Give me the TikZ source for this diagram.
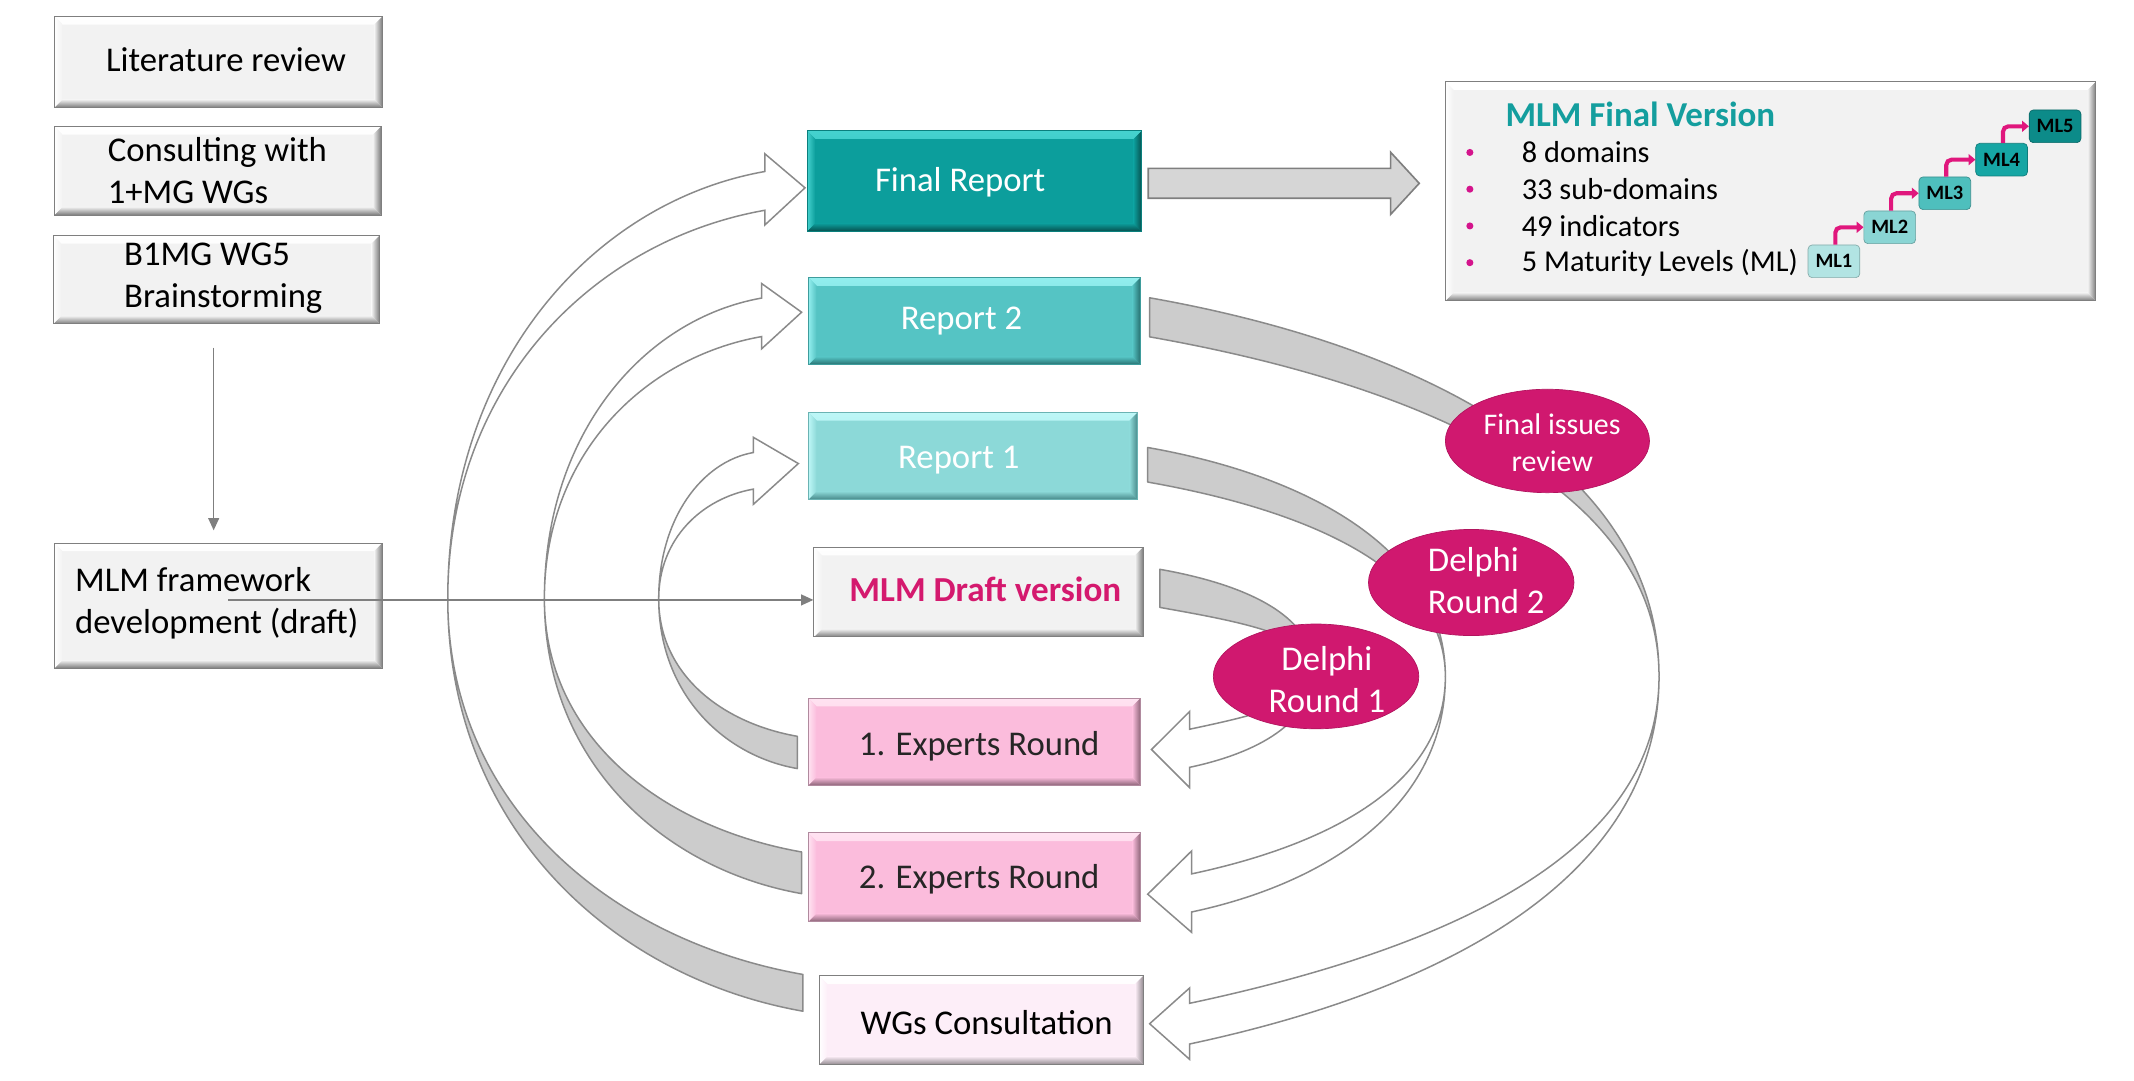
\documentclass[tikz,border=0pt]{standalone}
\usepackage{fontspec}
\setmainfont{Carlito}
\usetikzlibrary{shapes.geometric,arrows.meta,calc}
\definecolor{tealD}{HTML}{0C9E9C}
\definecolor{tealDl}{HTML}{45D2CF}
\definecolor{tealDd}{HTML}{064F4D}
\definecolor{tealDb}{HTML}{0A7F7D}
\definecolor{tealM}{HTML}{55C4C4}
\definecolor{tealMl}{HTML}{92EEEE}
\definecolor{tealMd}{HTML}{266E6E}
\definecolor{tealMb}{HTML}{3E9C9C}
\definecolor{tealL}{HTML}{8CD9D8}
\definecolor{tealLl}{HTML}{BDF7F7}
\definecolor{tealLd}{HTML}{468787}
\definecolor{tealLb}{HTML}{6AB3B3}
\definecolor{greyB}{HTML}{F2F2F2}
\definecolor{greyD}{HTML}{7A7A7A}
\definecolor{greyE}{HTML}{7F7F7F}
\definecolor{pinkB}{HTML}{FBBCDC}
\definecolor{pinkBl}{HTML}{FFE2F1}
\definecolor{pinkBd}{HTML}{8C6478}
\definecolor{pinkBb}{HTML}{B08A9E}
\definecolor{pinkL}{HTML}{FDEEF8}
\definecolor{pinkLd}{HTML}{948C92}
\definecolor{delphi}{HTML}{D0186F}
\definecolor{ribG}{HTML}{CCCCCC}
\definecolor{ribE}{HTML}{8A8A8A}
\definecolor{pinkT}{HTML}{D4196E}
\definecolor{tealT}{HTML}{149E9E}
\definecolor{bulletC}{HTML}{D4148C}
\definecolor{mlarrC}{HTML}{E0177D}
\definecolor{mlA}{HTML}{B2E4E3}
\definecolor{mlB}{HTML}{8AD5D4}
\definecolor{mlC}{HTML}{4EBFBD}
\definecolor{mlD}{HTML}{16A6A4}
\definecolor{mlE}{HTML}{0C8B89}
\newcommand\bevw{6pt}
\tikzset{
  bev/.style n args={4}{rectangle, draw=#4, line width=0.7pt, fill=#1, inner sep=0pt,
    path picture={
      \shade[top color=#2, bottom color=#1] (path picture bounding box.north west) -- (path picture bounding box.north east) -- ([shift={(-\bevw,-\bevw)}]path picture bounding box.north east) -- ([shift={(\bevw,-\bevw)}]path picture bounding box.north west) -- cycle;
      \shade[top color=#1, bottom color=#3] (path picture bounding box.south west) -- (path picture bounding box.south east) -- ([shift={(-\bevw,\bevw)}]path picture bounding box.south east) -- ([shift={(\bevw,\bevw)}]path picture bounding box.south west) -- cycle;
      \shade[left color=#2, right color=#1] (path picture bounding box.north west) -- ([shift={(\bevw,-\bevw)}]path picture bounding box.north west) -- ([shift={(\bevw,\bevw)}]path picture bounding box.south west) -- (path picture bounding box.south west) -- cycle;
      \shade[left color=#1, right color=#3] (path picture bounding box.north east) -- ([shift={(-\bevw,-\bevw)}]path picture bounding box.north east) -- ([shift={(-\bevw,\bevw)}]path picture bounding box.south east) -- (path picture bounding box.south east) -- cycle;
    }},
  greybox/.style={bev={greyB}{white}{greyD}{greyE}},
  txt/.style={font=\fontsize{25.5}{31}\selectfont, inner sep=0pt, align=center},
  txtl/.style={txt, align=left, anchor=west},
  ribback/.style={fill=ribG, draw=ribE, line width=1.1pt, line join=round},
  ribfront/.style={fill=white, draw=ribE, line width=1.1pt, line join=miter},
  thinarrow/.style={draw=greyE, line width=1pt, -{Triangle[width=8pt,length=9pt]}},
  delphinode/.style={ellipse, fill=delphi, draw=delphi!85!black, line width=0.5pt, inner sep=0pt},
  dtxt/.style={txt, text=white},
  mlbox/.style={rectangle, rounded corners=3pt, draw=#1!75!black, line width=0.5pt, fill=#1, minimum width=38pt, minimum height=24pt, inner sep=0pt, font=\fontsize{15}{16}\selectfont\bfseries},
  mlarr/.style={draw=mlarrC, line width=3pt, rounded corners=4pt, -{Triangle[width=8pt,length=5pt]}},
  itemtxt/.style={font=\fontsize{22.3}{26}\selectfont, inner sep=0pt, anchor=west},
}
\begin{document}
\begin{tikzpicture}[x=1pt,y=-1pt]
\useasboundingbox (0,0) rectangle (1568,793.6);

% ---------- curved ribbons, left side ----------
\path[ribback] (329,440) .. controls (329,606.7) and (448.6,718) .. (590,743) -- (590,716) .. controls (448.6,691) and (329,591.8) .. (329,440) -- cycle;
\path[ribfront] (329,440) .. controls (329,267.3) and (435.8,148.3) .. (562,126) -- (562,113) -- (591.5,138) -- (562,165.3) -- (562,154.5) .. controls (435.8,176.8) and (329,283) .. (329,440) -- cycle;

\path[ribback] (400,440) .. controls (400,559.1) and (486.6,638.5) .. (589,656.6) -- (589,626) .. controls (486.6,607.9) and (400,542.3) .. (400,440) -- cycle;
\path[ribfront] (400,440) .. controls (400,318.5) and (473.1,234.3) .. (559.6,219) -- (559.6,208.3) -- (589,229.4) -- (559.6,256.3) -- (559.6,247.3) .. controls (473.1,262.6) and (400,334) .. (400,440) -- cycle;

\path[ribback] (484,440) .. controls (484,508.6) and (530.6,555) .. (585.8,564.7) -- (585.8,541) .. controls (530.6,531.3) and (484,495.6) .. (484,440) -- cycle;
\path[ribfront] (484,440) .. controls (484,380.9) and (515.9,339.1) .. (553.5,332.5) -- (553.5,321.3) -- (586.6,340.6) -- (553.5,370.6) -- (553.5,359.4) .. controls (515.9,366) and (484,395.7) .. (484,440) -- cycle;

% ---------- curved ribbons, right side ----------
\path[ribback] (844.7,218.8) .. controls (1047.5,254.6) and (1219,344) .. (1219,497) .. controls (1219,359.8) and (1047.5,283.3) .. (844.7,247.5) -- cycle;
\path[ribfront] (1219,497) .. controls (1219,645.6) and (1059.6,727.6) .. (874,767.1) -- (874,778.3) -- (844.7,752.2) -- (874,726) -- (874,737.2) .. controls (1059.6,697.7) and (1219,629.1) .. (1219,497) -- cycle;

\path[ribback] (843.3,328.8) .. controls (961.8,349.7) and (1062,404.5) .. (1062,497) .. controls (1062,418.5) and (961.8,375.1) .. (843.3,354.2) -- cycle;
\path[ribfront] (1062,497) .. controls (1062,592.2) and (975.8,648.8) .. (875.5,670.1) -- (875.5,685) -- (843.3,657) -- (875.5,625.3) -- (875.5,642.1) .. controls (975.8,620.8) and (1062,576.8) .. (1062,497) -- cycle;

\path[ribback] (852.2,418.3) .. controls (913.3,429.1) and (965,451.5) .. (965,492) .. controls (965,466.9) and (913.3,457.1) .. (852.2,446.3) -- cycle;
\path[ribfront] (965,492) .. controls (965,531.5) and (923,553.4) .. (874.1,563.8) -- (874.1,578.7) -- (846.1,550.7) -- (874.1,522.8) -- (874.1,535.8) .. controls (923,525.4) and (965,516.1) .. (965,492) -- cycle;

% ---------- big straight arrow ----------
\path[fill=ribG!80!white, draw=greyE, line width=1.2pt] (843.7,123.7) -- (1021.8,123.7) -- (1021.8,111.9) -- (1042.8,134.7) -- (1021.8,157.5) -- (1021.8,145.7) -- (843.7,145.7) -- cycle;

% ---------- left boxes ----------
\node[greybox, minimum width=241pt, minimum height=67pt] (lit) at (160.5,45.5) {};
\node[greybox, minimum width=240pt, minimum height=65pt] (cons) at (160,125.5) {};
\node[greybox, minimum width=240pt, minimum height=65pt] (b1mg) at (159,205.5) {};
\node[greybox, minimum width=241pt, minimum height=92pt] (mlmfw) at (160.5,445) {};
\node[txt] (litT) at (166,44) {Literature review};
\node[txtl] (consT) at (79,125.5) {Consulting with\\1+MG WGs};
\node[txtl] (b1mgT) at (91,204.5) {B1MG WG5\\Brainstorming};
\node[txtl] (mlmfwT) at (55,443) {MLM framework\\development (draft)};

% ---------- central boxes ----------
\node[bev={tealD}{tealDl}{tealDd}{tealDb}, minimum width=246pt, minimum height=74pt] (final) at (716,133) {};
\node[bev={tealM}{tealMl}{tealMd}{tealMb}, minimum width=244pt, minimum height=64pt] (rep2) at (716,236) {};
\node[bev={tealL}{tealLl}{tealLd}{tealLb}, minimum width=242pt, minimum height=64pt] (rep1) at (715,335) {};
\node[greybox, minimum width=242pt, minimum height=66pt] (draft) at (719,435) {};
\node[bev={pinkB}{pinkBl}{pinkBd}{pinkBb}, minimum width=244pt, minimum height=64pt] (exp1) at (716,545) {};
\node[bev={pinkB}{pinkBl}{pinkBd}{pinkBb}, minimum width=244pt, minimum height=65pt] (exp2) at (716,644.5) {};
\node[bev={pinkL}{white}{pinkLd}{greyE}, minimum width=238pt, minimum height=65pt] (wgs) at (721,749.5) {};
\node[txt, text=white] (finalT) at (705.5,134) {Final Report};
\node[txt, text=white] (rep2T) at (706.5,236) {Report 2};
\node[txt, text=white] (rep1T) at (704.5,338) {Report 1};
\node[txt, text=pinkT, font=\fontsize{25.8}{31}\selectfont\bfseries] (draftT) at (724,433) {MLM Draft version};
\node[txt, text=black!85] (exp1T) at (719.5,548) {1. Experts Round};
\node[txt, text=black!85] (exp2T) at (719.5,646) {2. Experts Round};
\node[txt] (wgsT) at (725,751) {WGs Consultation};

% ---------- thin connectors ----------
\draw[thinarrow] ([xshift=-2pt,yshift=-17pt]b1mg.south) -- ([xshift=-3.5pt,yshift=9pt]mlmfw.north);
\coordinate (hstart) at (167.7,440.8);
\draw[thinarrow] (hstart) -- (draft.west |- hstart);

% ---------- Delphi ellipses ----------
\node[delphinode, minimum width=150pt, minimum height=76pt] (fir) at (1137,324) {};
\node[delphinode, minimum width=151pt, minimum height=78pt] (d2) at (1081,428) {};
\node[delphinode, minimum width=151pt, minimum height=77pt] (d1) at (967,497) {};
\node[dtxt, font=\fontsize{22}{27}\selectfont] (firT) at (1140.5,325.5) {Final issues\\review};
\node[dtxt, align=left, anchor=west] (d2T) at (1049,426.5) {Delphi\\Round 2};
\node[dtxt] (d1T) at (975,499.5) {Delphi\\Round 1};

% ---------- MLM Final Version panel ----------
\node[greybox, minimum width=478pt, minimum height=161pt] (panel) at (1301,140.5) {};
\node[txtl, text=tealT, font=\fontsize{25.7}{31}\selectfont\bfseries] (panelT) at (1106,84) {MLM Final Version};
\fill[bulletC] (1080,112) circle (2.6pt) (1080,139) circle (2.6pt) (1080,166) circle (2.6pt) (1080,193) circle (2.6pt);
\node[itemtxt] (it1) at (1118,112) {8 domains};
\node[itemtxt] (it2) at (1118,139) {33 sub-domains};
\node[itemtxt] (it3) at (1118,166) {49 indicators};
\node[itemtxt] (it4) at (1118,193) {5 Maturity Levels (ML)};

\node[mlbox=mlA] (ml1) at (1347.5,192) {ML1};
\node[mlbox=mlB] (ml2) at (1388.5,167) {ML2};
\node[mlbox=mlC] (ml3) at (1429,142) {ML3};
\node[mlbox=mlD] (ml4) at (1470.7,117.3) {ML4};
\node[mlbox=mlE] (ml5) at (1510,92.8) {ML5};
\draw[mlarr] ([xshift=1pt]ml1.north) |- (ml2.west);
\draw[mlarr] ([xshift=1pt]ml2.north) |- (ml3.west);
\draw[mlarr] ([xshift=1pt]ml3.north) |- (ml4.west);
\draw[mlarr] ([xshift=1pt]ml4.north) |- (ml5.west);
\end{tikzpicture}
\end{document}
